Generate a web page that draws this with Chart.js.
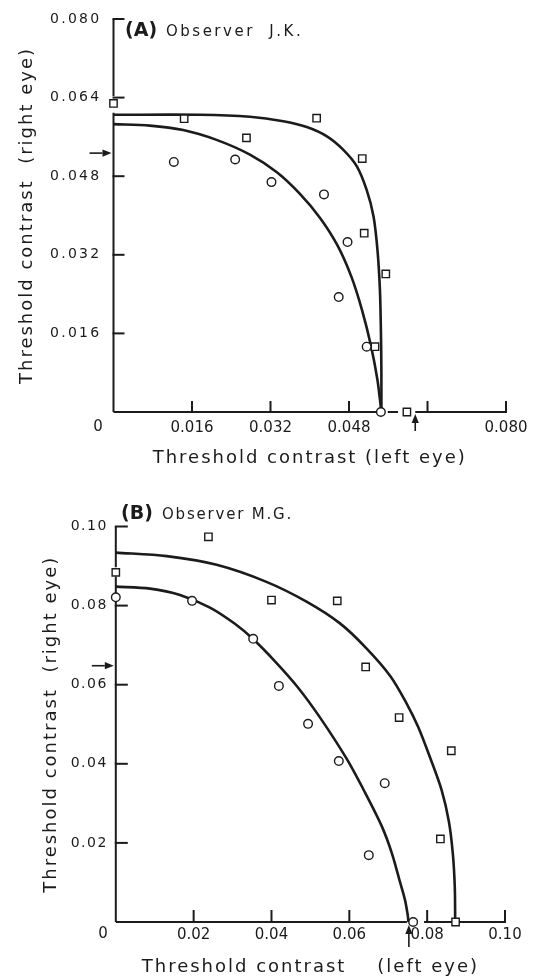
<!DOCTYPE html>
<html><head><meta charset="utf-8">
<script src="https://cdn.jsdelivr.net/npm/chart.js@4.4.1/dist/chart.umd.min.js"></script>
<style>
html,body{margin:0;padding:0;background:#fff;}
#wrap{position:relative;width:536px;height:978px;overflow:hidden;background:#fff;}
canvas{position:absolute;left:0;}
</style></head><body>
<div id="wrap">
<canvas id="cA" width="536" height="489" style="top:0px"></canvas>
<canvas id="cB" width="536" height="489" style="top:489px"></canvas>
</div>
<script>
// ---------- Panel A : Observer J.K. ----------
const A_SQUARES_X = [0, 0.0144, 0.0271, 0.0414, 0.0507, 0.0511, 0.0555, 0.0533, 0.0598];
const A_SQUARES_Y = [0.0628, 0.0597, 0.0558, 0.0598, 0.0516, 0.0364, 0.0281, 0.0133, 0];
const A_CIRCLES_X = [0.0123, 0.0248, 0.0322, 0.0429, 0.0477, 0.0459, 0.0516, 0.0545];
const A_CIRCLES_Y = [0.0509, 0.0514, 0.0468, 0.0443, 0.0346, 0.0234, 0.0133, 0];
const A_OUTER_X = [0, 0.0176, 0.0278, 0.0346, 0.0394, 0.0435, 0.0468, 0.0496, 0.0516, 0.0530, 0.0538, 0.0543, 0.0545, 0.0546, 0.0546];
const A_OUTER_Y = [0.0605, 0.0605, 0.0601, 0.0592, 0.0580, 0.0561, 0.0534, 0.0500, 0.0452, 0.0398, 0.0330, 0.0249, 0.0167, 0.0086, 0];
const A_INNER_X = [0, 0.0074, 0.0142, 0.0210, 0.0278, 0.0333, 0.0380, 0.0421, 0.0456, 0.0485, 0.0507, 0.0525, 0.0538, 0.0546];
const A_INNER_Y = [0.0586, 0.0583, 0.0574, 0.0554, 0.0524, 0.0488, 0.0444, 0.0395, 0.0340, 0.0275, 0.0206, 0.0134, 0.0065, 0];
const A_X_TICKS = [0.016, 0.032, 0.048, 0.064, 0.080];
const A_X_LABELS = ['0.016', '0.032', '0.048', '', '0.080'];
const A_Y_TICKS = [0.016, 0.032, 0.048, 0.064, 0.080];
const A_Y_LABELS = ['0.016', '0.032', '0.048', '0.064', '0.080'];
const A_ARROW_Y = 0.0527;
const A_ARROW_X = 0.0615;

// ---------- Panel B : Observer M.G. ----------
const B_SQUARES_X = [0, 0.0238, 0.0400, 0.0569, 0.0642, 0.0728, 0.0862, 0.0834, 0.0873];
const B_SQUARES_Y = [0.0884, 0.0974, 0.0814, 0.0812, 0.0645, 0.0517, 0.0433, 0.0210, 0];
const B_CIRCLES_X = [0, 0.0196, 0.0353, 0.0419, 0.0494, 0.0573, 0.0691, 0.0650, 0.0764];
const B_CIRCLES_Y = [0.0821, 0.0812, 0.0716, 0.0597, 0.0501, 0.0407, 0.0351, 0.0169, 0];
const B_OUTER_X = [0, 0.0131, 0.0259, 0.0387, 0.0490, 0.0576, 0.0644, 0.0706, 0.0747, 0.0777, 0.0807, 0.0837, 0.0856, 0.0866, 0.0871, 0.0872];
const B_OUTER_Y = [0.0934, 0.0925, 0.0903, 0.0860, 0.0810, 0.0755, 0.0692, 0.0621, 0.0553, 0.0493, 0.0417, 0.0334, 0.0253, 0.0172, 0.0088, 0];
const B_INNER_X = [0, 0.0088, 0.0165, 0.0242, 0.0306, 0.0352, 0.0409, 0.0468, 0.0524, 0.0593, 0.0640, 0.0683, 0.0709, 0.0730, 0.0743, 0.0750, 0.0752];
const B_INNER_Y = [0.0848, 0.0843, 0.0827, 0.0795, 0.0754, 0.0716, 0.0659, 0.0593, 0.0518, 0.0413, 0.0328, 0.0243, 0.0175, 0.0102, 0.0056, 0.0018, 0];
const B_X_TICKS = [0.02, 0.04, 0.06, 0.08, 0.10];
const B_X_LABELS = ['0.02', '0.04', '0.06', '0.08', '0.10'];
const B_Y_TICKS = [0.02, 0.04, 0.06, 0.08, 0.10];
const B_Y_LABELS = ['0.02', '0.04', '0.06', '0.08', '0.10'];
const B_ARROW_Y = 0.0648;
const B_ARROW_X = 0.0753;

const FONT = "'DejaVu Sans', sans-serif";
const INK = '#1b1b1b';

function pts(xs, ys) { return xs.map((x, i) => ({ x: x, y: ys[i] })); }

function arrowTo(ctx, x1, y1, x2, y2) {
  const ang = Math.atan2(y2 - y1, x2 - x1);
  const hl = 9, hw = 3.6;
  const bx = x2 - Math.cos(ang) * hl, by = y2 - Math.sin(ang) * hl;
  ctx.beginPath(); ctx.moveTo(x1, y1); ctx.lineTo(bx, by); ctx.stroke();
  ctx.beginPath();
  ctx.moveTo(x2, y2);
  ctx.lineTo(bx + Math.sin(ang) * hw, by - Math.cos(ang) * hw);
  ctx.lineTo(bx - Math.sin(ang) * hw, by + Math.cos(ang) * hw);
  ctx.closePath(); ctx.fill();
}

const decor = {
  id: 'decor',
  beforeDraw(chart, args, o) {
    const patch = (s, labSp, titSp) => {
      if (!s || s._lsPatched) return;
      const oL = s.drawLabels.bind(s), oT = s.drawTitle.bind(s);
      s.drawLabels = function (a) { const c = this.ctx; c.letterSpacing = labSp + 'px'; oL(a); c.letterSpacing = '0px'; };
      s.drawTitle = function (a) { const c = this.ctx; c.letterSpacing = titSp + 'px'; oT(a); c.letterSpacing = '0px'; };
      s._lsPatched = true;
    };
    patch(chart.scales.x, o.xLabSp, o.titleSp);
    patch(chart.scales.y, o.yLabSp, o.titleSp);
  },
  beforeDatasetsDraw(chart, args, o) {
    const ctx = chart.ctx, xs = chart.scales.x, ys = chart.scales.y;
    const a = chart.chartArea;
    ctx.save();
    ctx.strokeStyle = INK; ctx.fillStyle = INK; ctx.lineWidth = 2; ctx.lineCap = 'butt';
    o.xSeg.forEach(([s, e]) => { ctx.beginPath(); ctx.moveTo(xs.getPixelForValue(s), a.bottom); ctx.lineTo(xs.getPixelForValue(e), a.bottom); ctx.stroke(); });
    o.ySeg.forEach(([s, e]) => { ctx.beginPath(); ctx.moveTo(a.left, ys.getPixelForValue(s)); ctx.lineTo(a.left, ys.getPixelForValue(e)); ctx.stroke(); });
    o.xTicks.forEach(v => { const p = xs.getPixelForValue(v); ctx.beginPath(); ctx.moveTo(p, a.bottom + 1); ctx.lineTo(p, a.bottom - o.tickLen); ctx.stroke(); });
    o.yTicks.forEach(v => { const p = ys.getPixelForValue(v); ctx.beginPath(); ctx.moveTo(a.left - 1, p); ctx.lineTo(a.left + o.tickLen, p); ctx.stroke(); });
    ctx.lineWidth = 1.6;
    const ay = ys.getPixelForValue(o.arrowY);
    arrowTo(ctx, a.left - 24, ay, a.left - 2, ay);
    const ax = xs.getPixelForValue(o.arrowX);
    arrowTo(ctx, ax, a.bottom + o.arrowLen, ax, a.bottom + o.arrowGap);
    ctx.restore();
  },
  afterDraw(chart, args, o) {
    const ctx = chart.ctx;
    ctx.save();
    ctx.fillStyle = INK;
    ctx.textBaseline = 'alphabetic'; ctx.textAlign = 'left';
    ctx.letterSpacing = '0px';
    ctx.font = 'bold 19px ' + FONT;
    ctx.fillText(o.tag, o.tagX, o.tagY);
    ctx.letterSpacing = o.obsSp + 'px';
    ctx.font = '15px ' + FONT;
    ctx.fillText(o.observer, o.obsX, o.tagY);
    ctx.letterSpacing = '0px';
    ctx.font = '15px ' + FONT;
    ctx.textAlign = 'center'; ctx.textBaseline = 'middle';
    ctx.fillText('0', o.zeroX, o.zeroY);
    ctx.restore();
  }
};

function makePanel(id, p) {
  return new Chart(document.getElementById(id), {
    type: 'scatter',
    data: {
      datasets: [
        { label: 'circles', data: pts(p.cx, p.cy), pointStyle: 'circle', pointRadius: 4.3, pointBackgroundColor: '#ffffff', pointBorderColor: INK, pointBorderWidth: 1.4, showLine: false, clip: false, order: 1 },
        { label: 'squares', data: pts(p.sx, p.sy), pointStyle: 'rect', pointRadius: 5.2, pointBackgroundColor: '#ffffff', pointBorderColor: INK, pointBorderWidth: 1.4, showLine: false, clip: false, order: 1 },
        { label: 'inner', data: pts(p.ix, p.iy), showLine: true, borderColor: INK, borderWidth: 2.6, pointRadius: 0, tension: 0.3, fill: false, clip: false, order: 2 },
        { label: 'outer', data: pts(p.ox, p.oy), showLine: true, borderColor: INK, borderWidth: 2.6, pointRadius: 0, tension: 0.3, fill: false, clip: false, order: 2 }
      ]
    },
    options: {
      responsive: false, maintainAspectRatio: false, animation: false, devicePixelRatio: 1,
      layout: { padding: p.pad },
      events: [],
      plugins: { legend: { display: false }, tooltip: { enabled: false }, decor: p.decor },
      scales: {
        x: {
          type: 'linear', position: 'bottom', min: 0, max: p.xMax,
          grid: { display: false }, border: { display: false },
          afterBuildTicks: s => { s.ticks = p.xTicks.map(v => ({ value: v })); },
          afterFit: s => { s.height = p.xH; },
          ticks: { autoSkip: false, maxRotation: 0, minRotation: 0, padding: p.xTickPad, color: INK, font: { family: FONT, size: 15 }, callback: (v, i) => p.xLabels[i] },
          title: { display: true, text: p.xTitle, color: INK, font: { family: FONT, size: 18 }, padding: { top: 0, bottom: p.xTitlePad } }
        },
        y: {
          type: 'linear', position: 'left', min: 0, max: p.yMax,
          grid: { display: false }, border: { display: false },
          afterBuildTicks: s => { s.ticks = p.yTicks.map(v => ({ value: v })); },
          afterFit: s => { s.width = p.yW; },
          ticks: { autoSkip: false, padding: p.yTickPad, color: INK, font: { family: FONT, size: p.yFont }, callback: (v, i) => p.yLabels[i] },
          title: { display: true, text: p.yTitle, color: INK, font: { family: FONT, size: 18 }, padding: { top: p.yTitlePad, bottom: 0 } }
        }
      }
    },
    plugins: [decor]
  });
}

makePanel('cA', {
  cx: A_CIRCLES_X, cy: A_CIRCLES_Y, sx: A_SQUARES_X, sy: A_SQUARES_Y,
  ix: A_INNER_X, iy: A_INNER_Y, ox: A_OUTER_X, oy: A_OUTER_Y,
  xMax: 0.08, yMax: 0.08, xTicks: A_X_TICKS, xLabels: A_X_LABELS, yTicks: A_Y_TICKS, yLabels: A_Y_LABELS,
  pad: { left: 0, right: 30, top: 19, bottom: 0 },
  xH: 77, yW: 113.5, xTickPad: -1, yTickPad: 4, yFont: 14,
  xTitle: 'Threshold contrast (left eye)', xTitlePad: 20,
  yTitle: 'Threshold contrast  (right eye)', yTitlePad: 17,
  decor: {
    xLabSp: 0, yLabSp: 2.3, titleSp: 2,
    xSeg: [[0, 0.0537], [0.0559, 0.0580], [0.0615, 0.080]],
    ySeg: [[0, 0.0609], [0.0643, 0.080]],
    xTicks: A_X_TICKS, yTicks: A_Y_TICKS, tickLen: 11,
    arrowY: A_ARROW_Y, arrowX: A_ARROW_X, arrowLen: 19, arrowGap: 2,
    tag: '(A)', tagX: 125, tagY: 36, observer: 'Observer  J.K.', obsX: 166, obsSp: 2.5,
    zeroX: 98, zeroY: 427
  }
});

makePanel('cB', {
  cx: B_CIRCLES_X, cy: B_CIRCLES_Y, sx: B_SQUARES_X, sy: B_SQUARES_Y,
  ix: B_INNER_X, iy: B_INNER_Y, ox: B_OUTER_X, oy: B_OUTER_Y,
  xMax: 0.10, yMax: 0.10, xTicks: B_X_TICKS, xLabels: B_X_LABELS, yTicks: B_Y_TICKS, yLabels: B_Y_LABELS,
  pad: { left: 0, right: 31, top: 37.5, bottom: 0 },
  xH: 56, yW: 115.8, xTickPad: -4, yTickPad: 0, yFont: 14,
  xTitle: 'Threshold contrast    (left eye)', xTitlePad: 0,
  yTitle: 'Threshold contrast  (right eye)', yTitlePad: 41,
  decor: {
    xLabSp: 0, yLabSp: 1.5, titleSp: 2,
    xSeg: [[0, 0.0748], [0.0792, 0.0868], [0.0878, 0.10]],
    ySeg: [[0, 0.0873], [0.0897, 0.10]],
    xTicks: B_X_TICKS, yTicks: B_Y_TICKS, tickLen: 12,
    arrowY: B_ARROW_Y, arrowX: B_ARROW_X, arrowLen: 25, arrowGap: 3,
    tag: '(B)', tagX: 121, tagY: 30, observer: 'Observer M.G.', obsX: 162, obsSp: 1.8,
    zeroX: 103, zeroY: 445
  }
});
</script>
</body></html>
